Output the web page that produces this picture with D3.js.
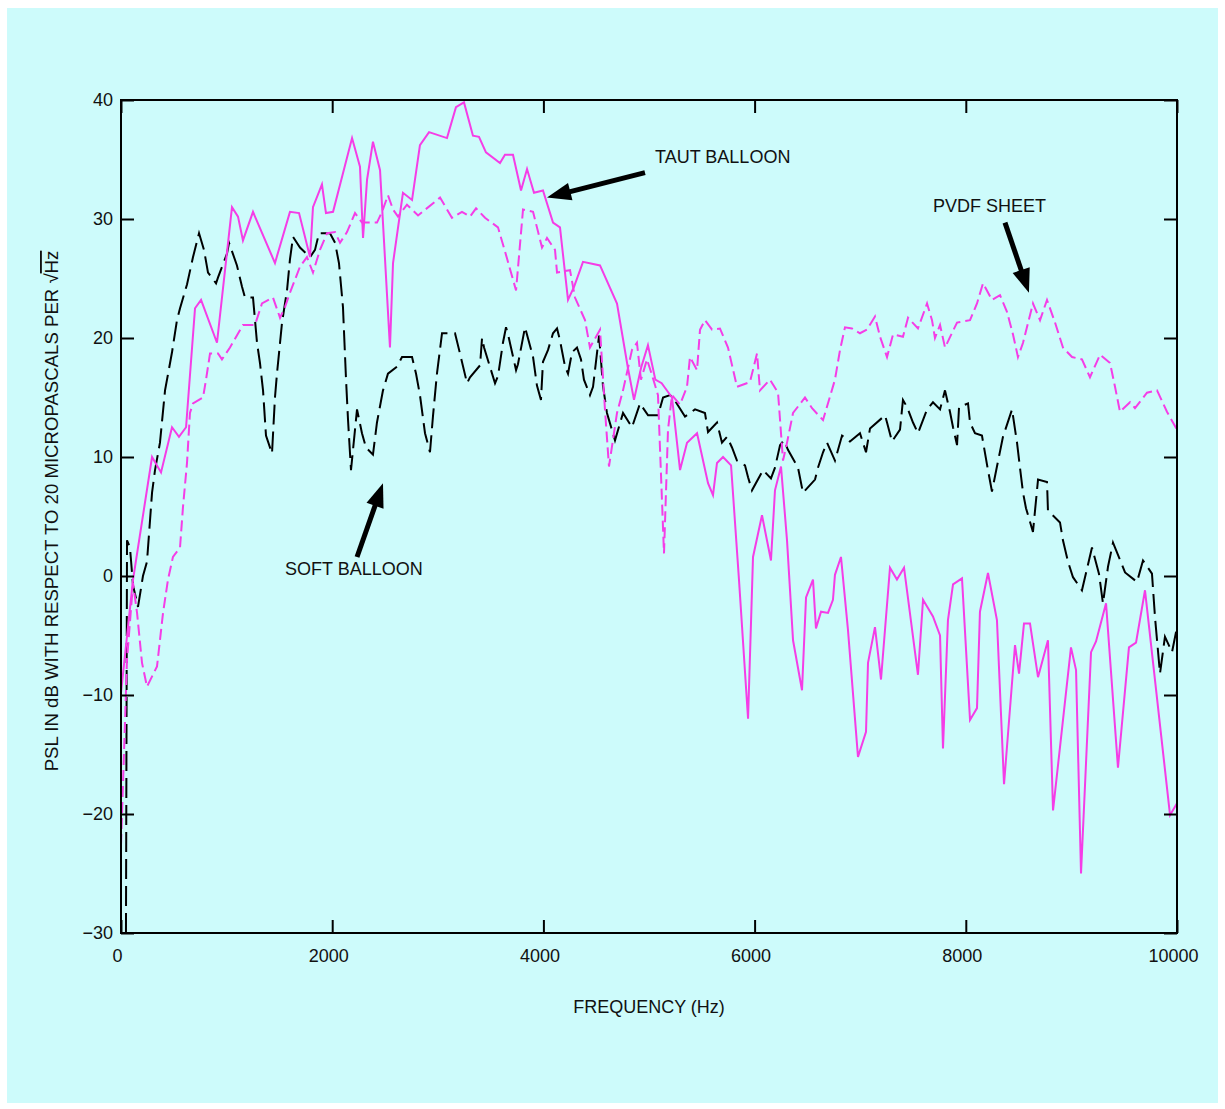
<!DOCTYPE html>
<html><head><meta charset="utf-8">
<script src="https://cdn.jsdelivr.net/npm/d3@7"></script>
<style>
html,body{margin:0;padding:0;background:#fff;}
svg{display:block;}
text{font-family:"Liberation Sans",Arial,sans-serif;fill:#111;}
</style></head>
<body>
<svg id="chart" width="1225" height="1109"></svg>
<script>
// ---- data (frequency Hz, level dB) ----
const xTicks = [0, 2000, 4000, 6000, 8000, 10000];
const yTicks = [-30, -20, -10, 0, 10, 20, 30, 40];

const tautFreq = [0,114,294,379,483,549,616,701,758,909,1051,1108,1155,1250,1458,1600,1686,1790,1818,1903,1941,2008,2188,2263,2292,2330,2386,2453,2547,2576,2670,2756,2831,2917,3087,3172,3248,3333,3390,3456,3589,3636,3712,3788,3845,3911,3996,4091,4157,4233,4290,4375,4536,4697,4800,4858,4925,4990,5060,5120,5218,5294,5360,5455,5559,5606,5644,5701,5777,5852,5938,5985,6070,6155,6193,6250,6307,6364,6449,6487,6553,6581,6629,6695,6742,6761,6818,6884,6979,7055,7074,7140,7197,7282,7348,7415,7547,7595,7689,7756,7784,7831,7879,7964,8040,8106,8134,8210,8295,8362,8466,8504,8551,8608,8684,8778,8826,8996,9044,9091,9186,9233,9328,9441,9545,9612,9697,9934,10000];
const tautLevel = [-9.8,-0.3,10,8.7,12.5,11.7,12.5,22.5,23.2,19.6,31,30.2,28.2,30.6,26.3,30.6,30.5,26.8,31,32.9,30.5,30.6,36.8,34.4,28.4,33.3,36.5,34.1,19.2,26.3,32.2,31.6,36.2,37.3,36.8,39.4,39.8,37,36.9,35.6,34.7,35.4,35.4,32.4,34.2,32.2,32.4,29.7,29.3,23.2,24.3,26.4,26.1,22.9,17.5,14.8,17.5,19.4,16.5,16.2,15,8.9,11.2,12,7.8,6.8,9.5,10,9.3,-0.3,-12,1.6,5.1,1.3,7.2,9.2,3,-5.4,-9.6,-1.8,-0.3,-4.4,-3,-3.1,-2,0.1,1.6,-4.5,-15.2,-13.1,-7.3,-4.3,-8.7,0.7,-0.3,0.7,-8.3,-2,-3.4,-5,-14.5,-3.7,-0.7,-0.2,-12.1,-11.1,-3,0.25,-3.7,-17.5,-5.8,-8.2,-4,-4,-8.5,-5.4,-19.7,-6,-7.9,-25,-6.4,-5.5,-2.3,-16.1,-6,-5.6,-1.2,-20.1,-19.1];

const pvdfFreq = [0,57,114,152,199,246,341,398,445,492,559,587,625,653,682,777,805,843,919,956,1032,1155,1269,1335,1439,1506,1553,1600,1695,1761,1818,1884,1951,2027,2074,2140,2216,2282,2424,2472,2528,2576,2623,2708,2813,3021,3134,3229,3305,3362,3447,3570,3655,3741,3807,3902,3987,4034,4110,4129,4252,4299,4394,4441,4536,4583,4621,4697,4754,4839,4886,4924,4981,5028,5085,5142,5180,5218,5294,5360,5388,5455,5483,5530,5597,5672,5748,5833,5956,6023,6051,6146,6222,6269,6307,6364,6477,6544,6648,6761,6809,6856,6922,6998,7064,7140,7188,7254,7311,7405,7453,7547,7633,7680,7708,7756,7803,7917,8040,8106,8163,8248,8324,8390,8447,8494,8542,8636,8703,8769,8845,8920,9006,9100,9176,9271,9366,9413,9460,9555,9602,9716,9811,9905,10000];
const pvdfLevel = [-22.6,-7,-0.6,-3.1,-7.3,-9.3,-7.6,-3.1,-0.3,1.6,2.4,5.8,9.5,13.7,14.5,15,16.5,18.7,18.7,18.2,19.2,21.1,21.1,22.9,23.4,21.7,22.6,23.8,26,26.8,25.5,27.4,28.8,28.9,28,28.9,30.5,29.7,29.7,30.6,32,30.8,30.2,31.2,30.3,31.8,30.1,30.6,30.2,30.9,30.1,29.3,26.7,24,30.8,30.6,27.6,28.4,27.4,25.5,25.7,23.4,21.5,19.2,20.7,14,9.2,13.7,15.6,19,19.6,16.5,18.2,16.9,15.2,1.9,12.3,15.2,14.4,15.9,18.4,17.3,20.7,21.5,20.7,20.8,19.2,15.9,16.3,18.7,15.6,16.5,15.4,9.7,11.2,13.7,15,14.1,13.1,16.5,19,20.9,20.8,20.4,20.7,21.8,20.1,18.4,20.3,20.1,21.7,20.8,22.9,21.5,20,21.1,19.2,21.3,21.5,22.9,24.6,23.2,23.6,22.2,20.3,18.4,19.6,22.9,21.5,23.2,21.3,19.2,18.4,18.2,16.7,18.6,17.9,15.9,13.8,14.6,14.1,15.4,15.6,13.8,12.3];

const softFreq = [47,57,85,114,161,208,246,294,322,369,417,483,530,559,625,682,739,786,824,900,919,1004,1023,1098,1146,1174,1250,1288,1316,1345,1373,1430,1458,1477,1525,1572,1600,1629,1695,1790,1837,1875,1979,2027,2064,2102,2131,2150,2178,2235,2282,2320,2386,2424,2481,2528,2614,2661,2756,2794,2831,2879,2926,2955,2992,3040,3163,3210,3277,3305,3400,3419,3438,3542,3570,3617,3646,3665,3741,3759,3826,3902,3939,3977,3996,4044,4091,4129,4157,4205,4233,4271,4318,4356,4384,4441,4470,4527,4564,4602,4678,4754,4839,4915,4991,5085,5133,5199,5227,5341,5436,5530,5559,5644,5691,5739,5786,5833,5909,5938,5975,6080,6155,6193,6241,6278,6316,6411,6458,6572,6600,6648,6686,6761,6828,6903,6998,7055,7093,7235,7254,7301,7377,7405,7443,7500,7547,7633,7689,7756,7803,7850,7879,7917,7936,8021,8040,8087,8153,8210,8248,8295,8352,8438,8485,8513,8542,8570,8636,8684,8769,8778,8892,8920,8968,9015,9100,9195,9261,9299,9347,9394,9508,9621,9678,9763,9792,9839,9886,9953,10000];
const softLevel = [-30,3,2.4,-0.8,-2.6,0,1.2,7,8.9,11.2,15.6,18.8,21.5,22.5,24.5,26.8,28.8,27.4,25.5,24.6,25.1,27.1,28,26.1,24.3,23.4,23.4,19.6,17.9,15.6,11.8,10.3,15,17,21.3,24,26.6,28.5,27.6,26.8,27.4,28.8,28.8,28,26.3,22.6,16.5,13.1,8.9,14,12,10.8,10.2,12.9,15.6,17,17.6,18.4,18.4,17,15.2,12,10.4,13.5,17,20.4,20.4,18.7,16.2,16.7,17.7,20,19.2,16.2,16.8,19.6,20.9,20.3,17.3,17.8,20.9,18.4,16,14.8,18,19,20.4,20.8,19.8,17.6,17,18.8,19.2,18.2,16.5,15.2,15.9,20.2,16,13.7,11.4,13.7,12.5,14.5,13.5,13.5,15,15.2,15,13.4,14,13.7,12.1,12.9,11.2,11.7,10.8,9.7,9.3,8.3,7.2,8.9,8.2,9.1,11,11.4,10.6,9.1,7,8.1,9.1,10.4,11.2,9.7,11.8,11.3,12,10.4,12.4,13.5,12.9,11.3,12.3,14.8,14.2,12.9,12,14,14.6,14,15.6,13.8,12.5,11,14.2,14.5,12.9,12,11.8,8.9,7.1,9.2,11.7,14,11.2,9.1,7,5.7,3.7,8.1,7.9,5.5,4.5,3,1.2,-0.1,-1.2,2.4,0.2,-2.3,0.8,2.8,0.3,-0.5,1.3,0.2,-3.5,-8.2,-5.1,-6.4,-4.3];

// annotations: label, text anchor point (Hz, dB), arrow tail and tip (Hz, dB)
const annLabels = ["TAUT BALLOON", "PVDF SHEET", "SOFT BALLOON"];
const annText = [[5057, 35.1], [7689, 31.0], [1553, 0.5]];
const annTail = [[4962, 33.9], [8371, 29.7], [2235, 1.6]];
const annTip  = [[4034, 31.8], [8598, 23.8], [2481, 7.8]];

// ---- drawing ----
const svg = d3.select("#chart");
const W = 1225, H = 1109;
const m = {left: 121, right: 1177, top: 100, bottom: 933};
const magenta = "#f53de6";

svg.append("rect").attr("width", W).attr("height", H).attr("fill", "#ffffff");
svg.append("rect").attr("x", 7).attr("y", 8).attr("width", 1211).attr("height", 1095).attr("fill", "#cdfbfb");

const x = d3.scaleLinear().domain([0, 10000]).range([m.left, m.right]);
const y = d3.scaleLinear().domain([-30, 40]).range([m.bottom, m.top]);

const g = svg.append("g");
svg.append("clipPath").attr("id", "clip").append("rect")
  .attr("x", m.left).attr("y", m.top - 2).attr("width", m.right - m.left).attr("height", m.bottom - m.top + 4);

const line = d3.line().x(d => x(d[0])).y(d => y(d[1]));
const zip = (a, b) => a.map((v, i) => [v, b[i]]);

const plot = g.append("g").attr("clip-path", "url(#clip)");
plot.append("path").datum(zip(softFreq, softLevel)).attr("d", line)
  .attr("fill", "none").attr("stroke", "#000").attr("stroke-width", 2)
  .attr("stroke-dasharray", "20,7").attr("stroke-linejoin", "miter");
plot.append("path").datum(zip(pvdfFreq, pvdfLevel)).attr("d", line)
  .attr("fill", "none").attr("stroke", magenta).attr("stroke-width", 2)
  .attr("stroke-dasharray", "11,5").attr("stroke-linejoin", "miter");
plot.append("path").datum(zip(tautFreq, tautLevel)).attr("d", line)
  .attr("fill", "none").attr("stroke", magenta).attr("stroke-width", 2)
  .attr("stroke-linejoin", "miter");

// axes with inward ticks on all four sides
const tl = 13;
const fmtY = d => d < 0 ? "\u2212" + Math.abs(d) : String(d);
const axB = g.append("g").attr("transform", `translate(0,${m.bottom})`)
  .call(d3.axisBottom(x).tickValues(xTicks).tickSizeInner(-tl).tickSizeOuter(0).tickPadding(16).tickFormat(d3.format("d")));
const axT = g.append("g").attr("transform", `translate(0,${m.top})`)
  .call(d3.axisTop(x).tickValues(xTicks).tickSizeInner(-tl).tickSizeOuter(0).tickFormat(""));
const axL = g.append("g").attr("transform", `translate(${m.left},0)`)
  .call(d3.axisLeft(y).tickValues(yTicks).tickSizeInner(-tl).tickSizeOuter(0).tickPadding(8).tickFormat(fmtY));
const axR = g.append("g").attr("transform", `translate(${m.right},0)`)
  .call(d3.axisRight(y).tickValues(yTicks).tickSizeInner(-tl).tickSizeOuter(0).tickFormat(""));
[axB, axT, axL, axR].forEach(a => {
  a.select(".domain").remove();
  a.selectAll(".tick line").attr("stroke", "#000").attr("stroke-width", 2);
  a.selectAll("text").attr("font-size", 18).attr("fill", "#111")
    .attr("font-family", "'Liberation Sans', Arial, sans-serif");
});
axB.selectAll(".tick text").attr("dx", -4);
g.append("rect").attr("x", m.left).attr("y", m.top).attr("width", m.right - m.left)
  .attr("height", m.bottom - m.top).attr("fill", "none").attr("stroke", "#000").attr("stroke-width", 2);

// axis titles
g.append("text").attr("x", 649).attr("y", 1013)
  .attr("text-anchor", "middle").attr("font-size", 18).text("FREQUENCY (Hz)");
const yl = g.append("text").attr("transform", "translate(58,511) rotate(-90)")
  .attr("text-anchor", "middle").attr("font-size", 18.6);
yl.append("tspan").text("PSL IN dB WITH RESPECT TO 20 MICROPASCALS PER \u221A");
yl.append("tspan").attr("text-decoration", "overline").style("text-decoration", "overline").text("Hz");

// annotations
annLabels.forEach((lab, i) => {
  g.append("text").attr("x", x(annText[i][0])).attr("y", y(annText[i][1]))
    .attr("dominant-baseline", "middle").attr("font-size", 18).text(lab);
  const x0 = x(annTail[i][0]), y0 = y(annTail[i][1]);
  const x1 = x(annTip[i][0]), y1 = y(annTip[i][1]);
  const ang = Math.atan2(y1 - y0, x1 - x0);
  const hl = 24, hw = 9;
  const bx = x1 - hl * Math.cos(ang), by = y1 - hl * Math.sin(ang);
  g.append("line").attr("x1", x0).attr("y1", y0).attr("x2", bx + 2 * Math.cos(ang)).attr("y2", by + 2 * Math.sin(ang))
    .attr("stroke", "#000").attr("stroke-width", 5);
  const px = -Math.sin(ang), py = Math.cos(ang);
  g.append("path").attr("d", `M${x1},${y1}L${bx + hw * px},${by + hw * py}L${bx - hw * px},${by - hw * py}Z`)
    .attr("fill", "#000");
});
</script>
</body></html>
